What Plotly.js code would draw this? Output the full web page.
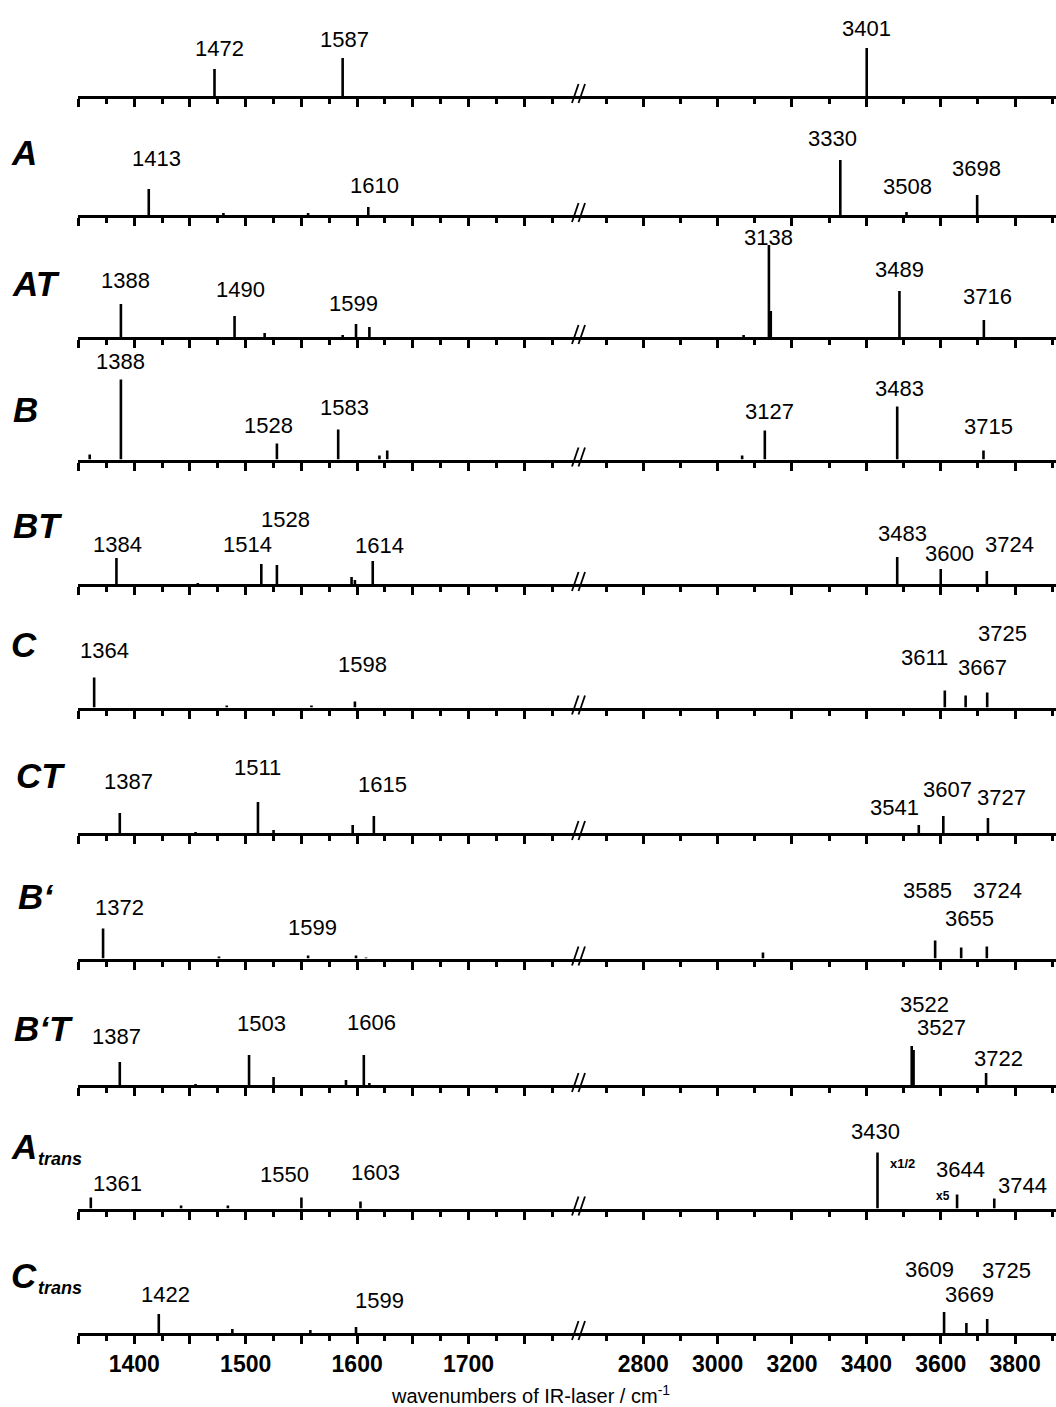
<!DOCTYPE html>
<html><head><meta charset="utf-8">
<script src="https://cdn.plot.ly/plotly-3.0.1.min.js"></script>
<style>html,body{margin:0;padding:0;background:#fff;overflow:hidden}#chart{width:1056px;height:1407px}</style>
</head><body><div id="chart"></div>
<script>
// ---------- DATA ----------
const panelNames = ["", "A", "AT", "B", "BT", "C", "CT", "B\u2018", "B\u2018T", "A", "C"];
const panelSubs  = ["", "", "", "", "", "", "", "", "", "trans", "trans"];

const pos_0 = [1472, 1587, 3401];
const int_0 = [27, 38, 48];
const pos_A = [1413, 1480, 1556, 1610, 3330, 3508, 3698];
const int_A = [26, 2, 2, 8, 55, 3, 20];
const pos_AT = [1388, 1490, 1517, 1587, 1599, 1611, 3070, 3138, 3140, 3143, 3489, 3716];
const int_AT = [33, 21, 4, 2, 13, 10, 2, 92, 26, 26, 46, 17];
const pos_B = [1360, 1388, 1528, 1583, 1620, 1627, 3066, 3127, 3483, 3715];
const int_B = [5, 80, 16, 30, 4, 9, 4, 29, 53, 9];
const pos_BT = [1384, 1457, 1514, 1528, 1595, 1598, 1614, 3483, 3600, 3724];
const int_BT = [26, 1, 20, 19, 7, 4, 23, 27, 15, 13];
const pos_C = [1364, 1483, 1559, 1598, 3611, 3667, 3725];
const int_C = [30, 2, 2, 6, 17, 12, 15];
const pos_CT = [1387, 1455, 1511, 1525, 1596, 1615, 3541, 3607, 3727];
const int_CT = [20, 1, 31, 3, 8, 17, 8, 17, 15];
const pos_Bp = [1372, 1476, 1556, 1599, 1608, 3122, 3585, 3655, 3724];
const int_Bp = [30, 2, 3, 3, 1, 6, 18, 11, 12];
const pos_BpT = [1387, 1455, 1503, 1525, 1590, 1606, 1611, 3522, 3527, 3722];
const int_BpT = [23, 1, 30, 8, 5, 30, 2, 39, 35, 12];
const pos_Atr = [1361, 1442, 1484, 1550, 1603, 3430, 3644, 3744];
const int_Atr = [11, 3, 3, 11, 7, 56, 14, 10];
const pos_Ctr = [1422, 1488, 1558, 1599, 3609, 3669, 3725];
const int_Ctr = [19, 4, 3, 6, 21, 10, 14];

const lab_0 = [1472, 1587, 3401];
const lab_A = [1413, 1610, 3330, 3508, 3698];
const lab_AT = [1388, 1490, 1599, 3138, 3489, 3716];
const lab_B = [1388, 1528, 1583, 3127, 3483, 3715];
const lab_BT = [1384, 1514, 1528, 1614, 3483, 3600, 3724];
const lab_C = [1364, 1598, 3611, 3667, 3725];
const lab_CT = [1387, 1511, 1615, 3541, 3607, 3727];
const lab_Bp = [1372, 1599, 3585, 3655, 3724];
const lab_BpT = [1387, 1503, 1606, 3522, 3527, 3722];
const lab_Atr = [1361, 1550, 1603, 3430, 3644, 3744];
const lab_Ctr = [1422, 1599, 3609, 3669, 3725];

const leftTicks = [1350, 1400, 1450, 1500, 1550, 1600, 1650, 1700, 1750];
const leftTickText = ["", "1400", "", "1500", "", "1600", "", "1700", ""];
const leftMinor = [1375, 1425, 1475, 1525, 1575, 1625, 1675, 1725, 1775];
const rightTicks = [2800, 3000, 3200, 3400, 3600, 3800];
const rightTickText = ["2800", "3000", "3200", "3400", "3600", "3800"];
const rightMinor = [2700, 2900, 3100, 3300, 3500, 3700, 3900];
const xTitle = "wavenumbers of IR-laser / cm<sup>-1</sup>";

// ---------- LAYOUT (positions, not data) ----------
const W = 1056, H = 1407, X0 = 78, XB = 580, YH = 92;
const baselines = [96, 215, 337, 459.5, 584, 707.5, 833, 958.5, 1085, 1208.5, 1333];
const labOff = [
  [[5,47],[2,57],[0,68]],
  [[8,56],[6,30],[-8,77],[1,29],[-1,47]],
  [[5,56],[6,48],[-3,33],[0,100],[0,67],[4,41]],
  [[0,98],[-8,34],[6,52],[5,48],[2,71],[5,33]],
  [[1,40],[-14,40],[9,65],[7,39],[5,51],[9,31],[23,40]],
  [[10,57],[8,43],[-20,50],[17,40],[15,74]],
  [[9,52],[0,66],[9,49],[-24,26],[4,44],[14,36]],
  [[16,51],[-44,31],[-8,68],[8,40],[11,68]],
  [[-3,49],[12,62],[8,63],[13,81],[28,58],[12,27]],
  [[27,25],[-17,34],[15,36],[-2,77],[3,39],[28,23]],
  [[7,39],[23,33],[-15,64],[3,39],[19,63]]
];
const nameXY = [null,[24,153],[36,283],[25,410],[37,526],[24,644],[40,775],[36,896],[43,1028],[24,1146],[24,1275]];
const subXY = [null,null,null,null,null,null,null,null,null,[60,1159],[60,1288]];

const positions = [pos_0,pos_A,pos_AT,pos_B,pos_BT,pos_C,pos_CT,pos_Bp,pos_BpT,pos_Atr,pos_Ctr];
const intensities = [int_0,int_A,int_AT,int_B,int_BT,int_C,int_CT,int_Bp,int_BpT,int_Atr,int_Ctr];
const labels = [lab_0,lab_A,lab_AT,lab_B,lab_BT,lab_C,lab_CT,lab_Bp,lab_BpT,lab_Atr,lab_Ctr];

const FONT = "Liberation Sans, Arial, sans-serif";
const px = x => x / W;
const py = y => 1 - y / H;

function sticks(pos, ints, lo, hi) {
  const x = [], y = [];
  pos.forEach((p, i) => { if (p >= lo && p < hi) { x.push(p, p, null); y.push(0, ints[i], null); } });
  return {x, y};
}

const data = [];
const layout = {
  width: W, height: H, margin: {l:0, r:0, t:0, b:0},
  paper_bgcolor: "#fff", plot_bgcolor: "rgba(0,0,0,0)",
  showlegend: false, font: {family: FONT, color: "#000"},
  annotations: [], shapes: []
};
const N = baselines.length;
for (let i = 0; i < N; i++) {
  const xl = "x" + (2*i+1), xr = "x" + (2*i+2), yy = "y" + (i+1);
  const L = sticks(positions[i], intensities[i], 0, 2000);
  const R = sticks(positions[i], intensities[i], 2000, 5000);
  const line = {color: "#000", width: 2.6};
  data.push({type: "scatter", mode: "lines", x: L.x, y: L.y, xaxis: xl, yaxis: yy, line, hoverinfo: "skip"});
  data.push({type: "scatter", mode: "lines", x: R.x, y: R.y, xaxis: xr, yaxis: yy, line, hoverinfo: "skip"});
  const yb = py(baselines[i]);
  const last = i === N - 1;
  layout["yaxis" + (i+1)] = {domain: [yb, yb + YH / H], range: [0, YH], visible: false, fixedrange: true, anchor: xl};
  const common = {
    anchor: yy, showline: true, linewidth: 3, linecolor: "#000", showgrid: false, zeroline: false,
    ticks: "outside", ticklen: 8, tickwidth: 3, tickcolor: "#000",
    tickmode: "array", showticklabels: last, ticklabelstandoff: 0,
    tickfont: {family: FONT, size: 23, weight: "bold", color: "#000"}
  };
  layout["xaxis" + (2*i+1)] = Object.assign({}, common, {
    domain: [px(X0), px(XB)], range: [1349.5, 1800],
    tickvals: leftTicks, ticktext: leftTickText,
    minor: {tickvals: leftMinor, ticks: "outside", ticklen: 5, tickwidth: 3, tickcolor: "#000", showgrid: false}
  });
  layout["xaxis" + (2*i+2)] = Object.assign({}, common, {
    domain: [px(XB), 1], range: [2630, 3910],
    tickvals: rightTicks, ticktext: rightTickText,
    minor: {tickvals: rightMinor, ticks: "outside", ticklen: 5, tickwidth: 3, tickcolor: "#000", showgrid: false}
  });
  // peak labels (x in data units, vertical position in paper units)
  labels[i].forEach((v, k) => {
    const off = labOff[i][k];
    layout.annotations.push({
      xref: v < 2000 ? xl : xr, yref: "paper", x: v, y: py(baselines[i] - off[1]), xshift: off[0],
      text: String(v), showarrow: false, xanchor: "center", yanchor: "middle",
      font: {family: FONT, size: 22, color: "#000"}
    });
  });
  // panel names
  if (nameXY[i]) {
    layout.annotations.push({
      xref: "paper", yref: "paper", x: px(nameXY[i][0]), y: py(nameXY[i][1]),
      text: panelNames[i], showarrow: false, xanchor: "center", yanchor: "middle",
      font: {family: FONT, size: 35, weight: "bold", style: "italic", color: "#000"}
    });
  }
  if (subXY[i]) {
    layout.annotations.push({
      xref: "paper", yref: "paper", x: px(subXY[i][0]), y: py(subXY[i][1]),
      text: panelSubs[i], showarrow: false, xanchor: "center", yanchor: "middle",
      font: {family: FONT, size: 18, weight: "bold", style: "italic", color: "#000"}
    });
  }
  // axis break marks "//"
  const b = baselines[i];
  [[572, 578.5], [578.5, 585]].forEach(s => {
    layout.shapes.push({type: "line", xref: "paper", yref: "paper",
      x0: px(s[0]), y0: py(b + 7), x1: px(s[1]), y1: py(b - 12),
      line: {color: "#000", width: 1.8}});
  });
}
// scale factors in A_trans
layout.annotations.push({xref: "x20", yref: "paper", x: 3430, y: py(baselines[9] - 45), xshift: 25, text: "x1/2", showarrow: false,
  xanchor: "center", yanchor: "middle", font: {family: FONT, size: 13, weight: "bold", color: "#000"}});
layout.annotations.push({xref: "x20", yref: "paper", x: 3644, y: py(baselines[9] - 13), xshift: -14, text: "x5", showarrow: false,
  xanchor: "center", yanchor: "middle", font: {family: FONT, size: 12, weight: "bold", color: "#000"}});
// axis title
layout.annotations.push({xref: "paper", yref: "paper", x: px(530), y: py(1394), text: xTitle, showarrow: false,
  xanchor: "center", yanchor: "middle", font: {family: FONT, size: 20, color: "#000"}});

Plotly.newPlot("chart", data, layout, {staticPlot: true, displayModeBar: false});
</script></body></html>
